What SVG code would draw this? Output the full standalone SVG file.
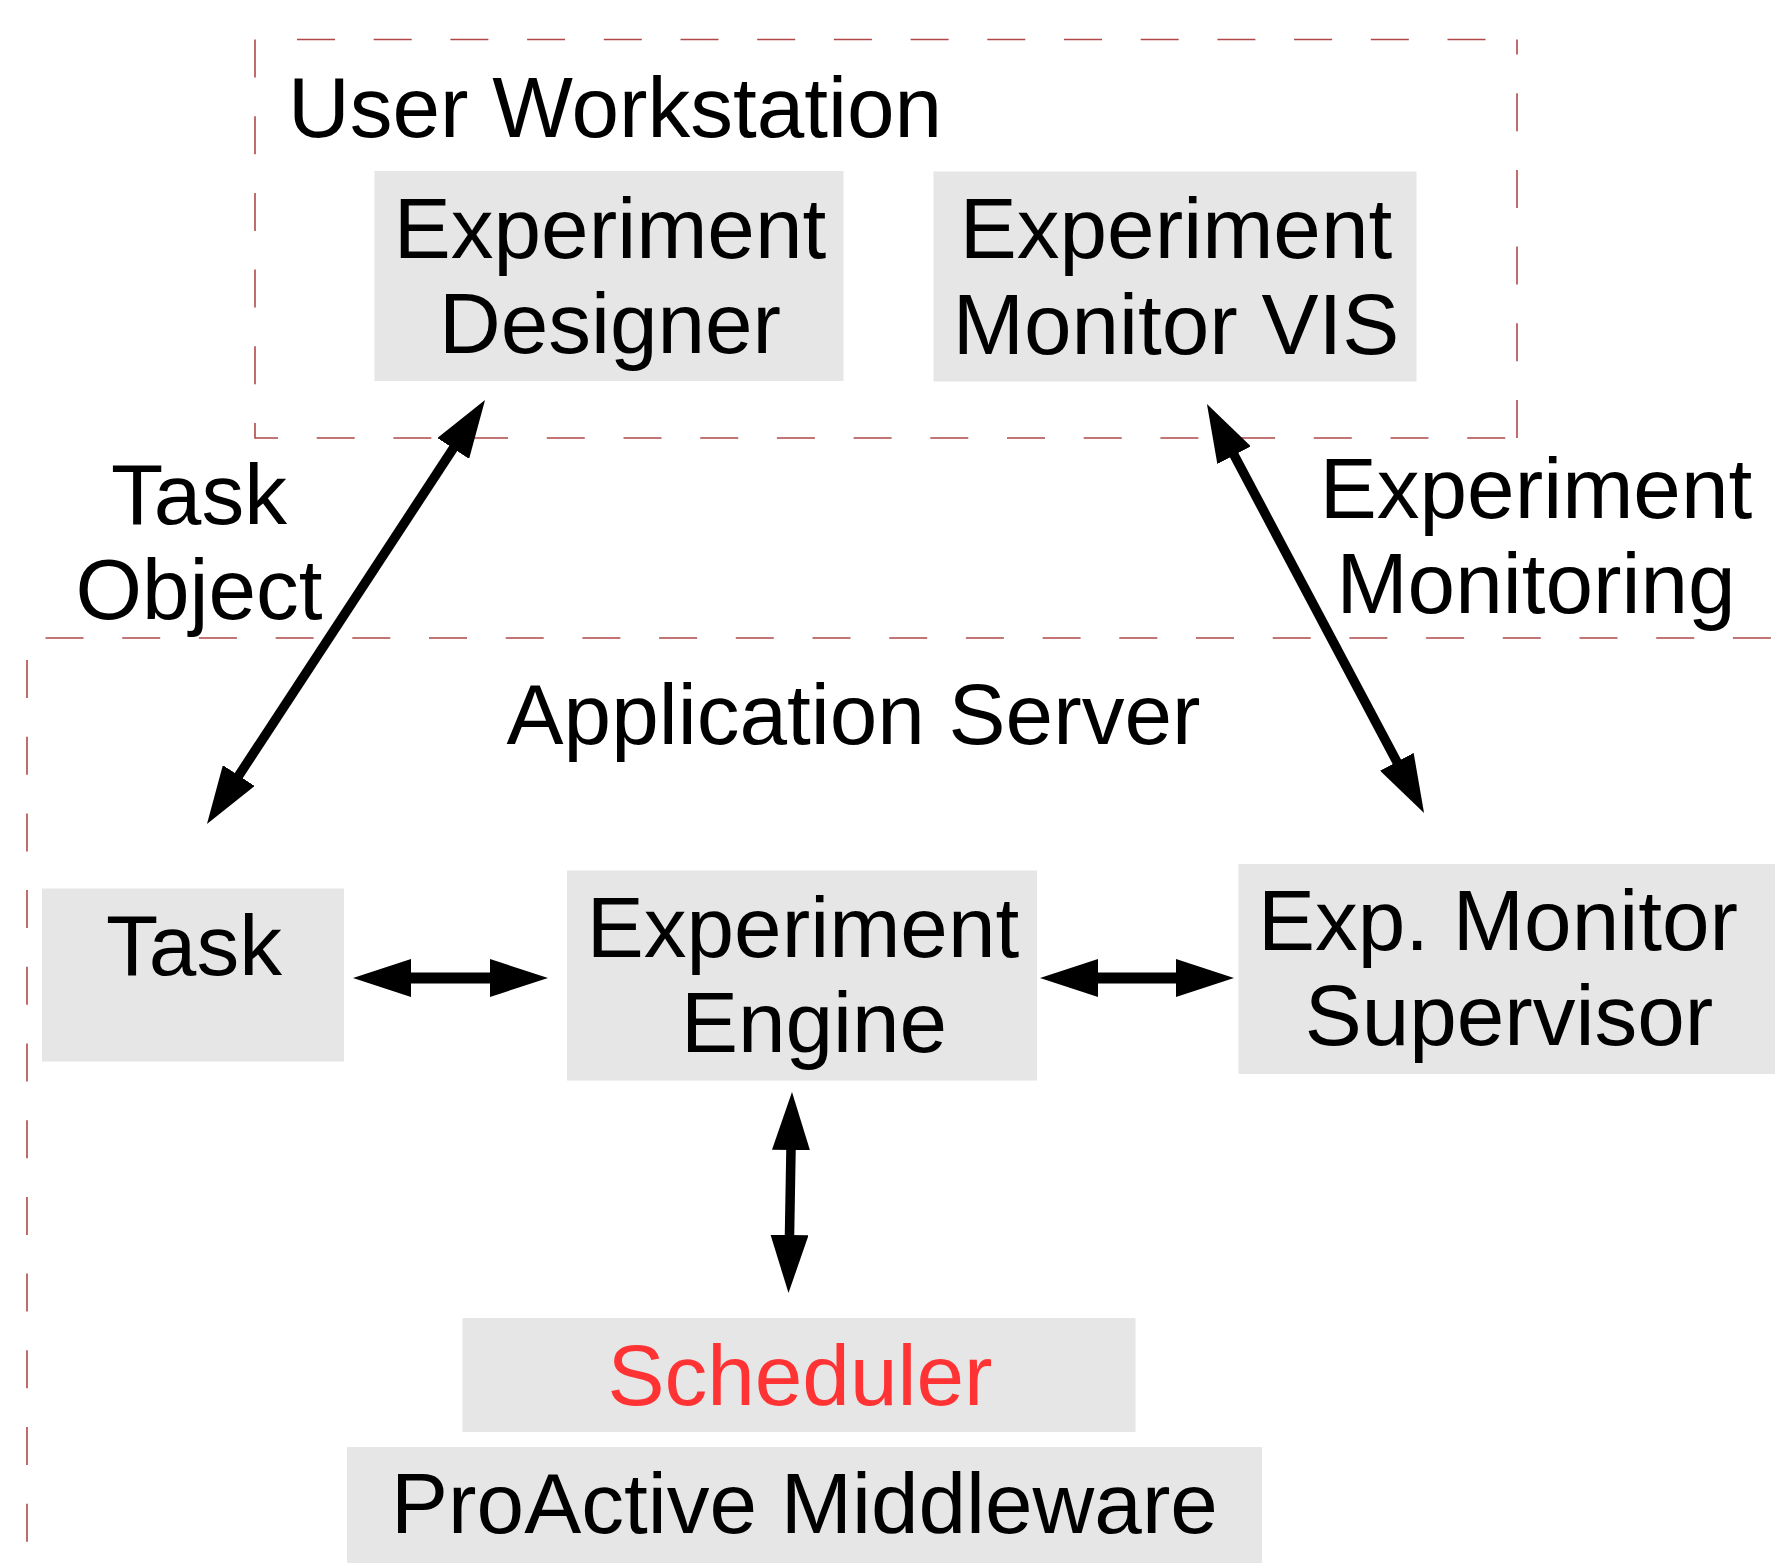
<svg xmlns="http://www.w3.org/2000/svg" width="1775" height="1563" viewBox="0 0 1775 1563">
  <style>
    .box { fill: #e6e6e6; }
    .t { font-family: "Liberation Sans", Arial, sans-serif; font-size: 85.5px; fill: #000; }
    .m { text-anchor: middle; }
    .red { fill: #ff3333; }
    .dash { fill: none; stroke: #b04848; stroke-width: 1.6; stroke-dasharray: 38 38.7; }
    .conn { fill: none; stroke: #000; }
  </style>
  <defs>
    <marker id="ah" viewBox="0 0 58 38" refX="18" refY="19" markerWidth="58" markerHeight="38" markerUnits="userSpaceOnUse" orient="auto-start-reverse">
      <path d="M0,0 L58,19 L0,38 Z" fill="#000"/>
    </marker>
  </defs>

  <rect width="1775" height="1563" fill="#fff"/>

  <g id="user-workstation">
    <path class="dash" d="M255,39.5 V438 H1517"/>
    <path class="dash" d="M1517,438 V39.5"/>
    <path class="dash" d="M297,39.5 H1517"/>
    <text class="t" x="288" y="137">User Workstation</text>
  </g>

  <g id="application-server">
    <path class="dash" d="M45.5,638 H1800"/>
    <path class="dash" d="M27,660 V1600"/>
    <text class="t m" x="853.5" y="744">Application Server</text>
  </g>

  <g id="experiment-designer">
    <rect class="box" x="374.5" y="171" width="469" height="210"/>
    <text class="t m" x="610" y="258">Experiment</text>
    <text class="t m" x="610" y="353">Designer</text>
  </g>

  <g id="experiment-monitor-vis">
    <rect class="box" x="933.5" y="171.5" width="483" height="210"/>
    <text class="t m" x="1176" y="258">Experiment</text>
    <text class="t m" x="1176" y="354">Monitor VIS</text>
  </g>

  <g id="task">
    <rect class="box" x="42" y="888.5" width="302" height="173"/>
    <text class="t m" x="194" y="975">Task</text>
  </g>

  <g id="experiment-engine">
    <rect class="box" x="567" y="870.5" width="470" height="210"/>
    <text class="t m" x="803" y="957">Experiment</text>
    <text class="t m" x="814" y="1052">Engine</text>
  </g>

  <g id="exp-monitor-supervisor">
    <rect class="box" x="1238.5" y="864" width="540" height="210"/>
    <text class="t m" x="1498" y="950">Exp. Monitor</text>
    <text class="t m" x="1509" y="1045">Supervisor</text>
  </g>

  <g id="scheduler">
    <rect class="box" x="462.5" y="1318" width="673" height="114"/>
    <text class="t m red" x="800" y="1405">Scheduler</text>
  </g>

  <g id="proactive-middleware">
    <rect class="box" x="347" y="1447" width="915" height="120"/>
    <text class="t m" x="804.5" y="1533">ProActive Middleware</text>
  </g>

  <g id="connectors">
    <line class="conn" x1="228.9" y1="790.6" x2="463.1" y2="433.4" stroke-width="9.5" marker-start="url(#ah)" marker-end="url(#ah)"/>
    <line class="conn" x1="1225.7" y1="439.3" x2="1405.3" y2="777.7" stroke-width="9.5" marker-start="url(#ah)" marker-end="url(#ah)"/>
    <line class="conn" x1="393" y1="978" x2="508" y2="978" stroke-width="11" marker-start="url(#ah)" marker-end="url(#ah)"/>
    <line class="conn" x1="1080" y1="978" x2="1194" y2="978" stroke-width="11" marker-start="url(#ah)" marker-end="url(#ah)"/>
    <line class="conn" x1="791.3" y1="1132" x2="789.2" y2="1253" stroke-width="9.5" marker-start="url(#ah)" marker-end="url(#ah)"/>
    <text class="t m" x="199" y="524">Task</text>
    <text class="t m" x="199" y="619">Object</text>
    <text class="t m" x="1536" y="518">Experiment</text>
    <text class="t m" x="1536" y="613">Monitoring</text>
  </g>
</svg>
